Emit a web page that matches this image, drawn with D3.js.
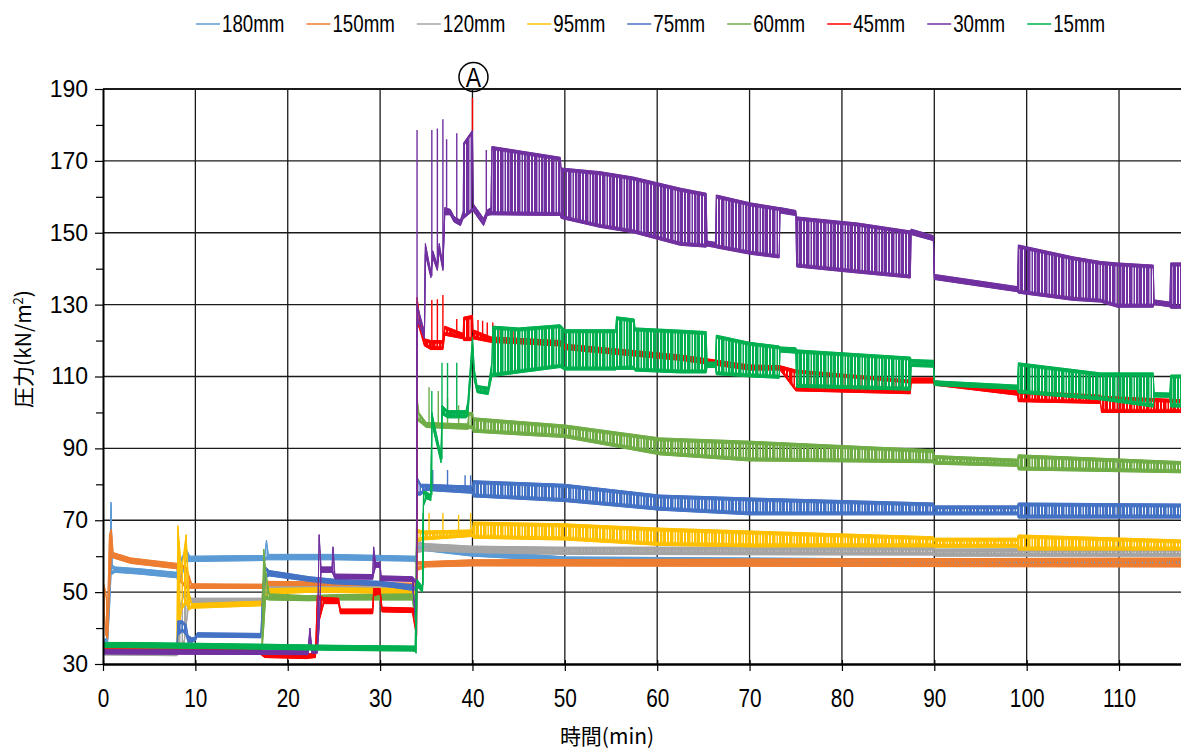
<!DOCTYPE html>
<html>
<head>
<meta charset="utf-8">
<script src="https://cdnjs.cloudflare.com/ajax/libs/d3/7.8.5/d3.min.js"></script>
<style>
  body { margin: 0; background: #fff; }
</style>
</head>
<body>
<script>
'use strict';

// series names and colours (legend order = drawing order)
const seriesNames = ['180mm', '150mm', '120mm', '95mm', '75mm', '60mm', '45mm', '30mm', '15mm'];
const seriesColors = ['#5B9BD5', '#ED7D31', '#A5A5A5', '#FFC000', '#4472C4', '#70AD47', '#FF0000', '#7030A0', '#00B050'];

const xTickValues = [0, 10, 20, 30, 40, 50, 60, 70, 80, 90, 100, 110];
const yTickValues = [30, 50, 70, 90, 110, 130, 150, 170, 190];
const yMinorTicks = [40, 60, 80, 100, 120, 140, 160, 180];

// envelopes: [time(min), low, high] in kN/m2
const env180mm = [[0, 35, 36.5], [0.5, 36, 37.5], [0.7, 45, 55], [0.87, 55, 75], [1.0, 55, 57.5], [1.3, 55.5, 57],
  [4, 55, 56.5], [8, 54, 55.5], [8.2, 52, 58], [8.6, 55, 60], [9.0, 58.5, 62], [9.4, 58.5, 60], [17.5, 58.8, 60.2],
  [17.7, 59, 64.5], [17.9, 59, 60.5], [25, 59, 60.5], [33.7, 58.6, 60], [33.9, 58, 60], [34.0, 62, 64.5],
  [35, 61.5, 63], [40, 60, 62], [45, 59.3, 60.8], [50, 58.3, 59.8], [117, 57.3, 58.8]];

const env150mm = [[0, 50, 53], [0.3, 38, 50], [0.5, 37, 45], [0.7, 50, 66], [0.9, 60, 67.5], [1.1, 59.5, 61],
  [3, 58, 59.5], [8, 56.5, 58], [8.3, 53, 58], [9, 51, 57], [9.6, 51, 52.3], [17.3, 51, 52.2], [17.6, 51.5, 53],
  [25, 51.5, 52.8], [33.7, 51.2, 52.5], [33.9, 40, 52], [34.0, 56, 58.5], [35, 57, 58.5], [40, 57.3, 59],
  [117, 57, 59.5]];

const env120mm = [[0, 32.5, 33.8], [8, 32.3, 33.6], [8.2, 33, 45], [8.8, 36, 50], [9.3, 47, 49], [9.6, 47, 48.3],
  [17.3, 47.2, 48.3], [17.5, 48, 52], [18, 50, 51.5], [33.7, 50, 51.5], [33.9, 45, 51], [34.0, 61, 64],
  [35, 61.5, 63.5], [40, 61, 62.8], [50, 60.5, 62.5], [90, 60.3, 62.5], [90.1, 60, 62], [117, 60, 62.2]];

const env95mm = [[0, 33, 34.2], [8, 33, 34.2], [8.1, 38, 68.5], [8.5, 45, 56], [9.0, 47, 66], [9.3, 45, 50],
  [9.6, 45.5, 46.8], [17.2, 46.2, 47.5], [17.4, 48, 55], [18, 49.5, 51], [23, 50, 51.2], [33.7, 49.5, 51],
  [33.9, 45, 50.5], [34.0, 64, 67.5], [34.6, 64.5, 67], [40, 65.5, 67.3], [40.1, 65, 69.5], [50, 64.5, 69],
  [60.3, 63, 67.8], [70, 62.6, 67], [89.9, 62.6, 65.4], [90, 62.5, 65], [99, 62.5, 65], [99.1, 61.7, 65.9],
  [117, 61.7, 64.5]];

const env75mm = [[0, 33, 34.2], [8, 33, 34.2], [8.1, 38, 42], [8.6, 39, 42], [9.0, 38, 41], [9.2, 36, 38],
  [9.6, 36, 37.3], [10.0, 36.5, 37.5], [10.2, 37.5, 38.7], [17.1, 37.3, 38.5], [17.3, 45, 52], [17.6, 54, 57],
  [18, 54.5, 56], [22.3, 53, 54.3], [25, 52.3, 53.6], [30, 51.8, 53], [33.5, 50.5, 52], [33.9, 44, 51],
  [34.0, 77, 82], [34.4, 77, 80], [35, 78.3, 80], [40, 77.5, 79.5], [40.1, 76.5, 81], [50, 75.2, 80],
  [60.3, 72.8, 77], [70, 71.5, 76.2], [89.9, 71.5, 74.8], [90, 71.5, 74], [99, 71.5, 74], [99.1, 70.6, 74.8],
  [117, 70.6, 74.5]];

const env60mm = [[0, 33, 34.2], [17.2, 33, 34.2], [17.4, 40, 62], [17.6, 48, 56], [18, 47.8, 49.5],
  [22.3, 47.6, 49], [25, 47.8, 49.3], [33.5, 47.8, 49.5], [33.9, 40, 49], [34.0, 98, 104], [34.2, 97.5, 100],
  [35, 95.8, 97.2], [39.5, 95.3, 96.8], [39.6, 95.5, 100], [40, 95.5, 100], [40.1, 94.5, 98.5], [50, 93, 96.5],
  [60.3, 88.2, 92.9], [70, 86.5, 92], [89.9, 86, 89.6], [90, 85.6, 88], [99, 85, 87], [99.1, 84, 88.2],
  [117, 83.2, 86.3]];

const env45mm = [[0, 33, 34.2], [17, 32.8, 34], [17.5, 31.8, 33], [22, 31.5, 32.8], [23.0, 31.8, 33],
  [23.2, 40, 49], [23.9, 46.8, 48.5], [25.5, 46.8, 48.3], [25.7, 44, 45.3], [29.2, 44, 45.3], [29.3, 49, 51],
  [30.0, 49.5, 51], [30.2, 44.5, 45.8], [33.5, 44.3, 45.6], [33.95, 37.5, 45], [34.0, 125, 132],
  [34.3, 123, 126], [34.8, 118.5, 120.5], [35.5, 117.5, 120], [36.8, 117.5, 120], [37.0, 121.5, 124],
  [39, 120.5, 122], [39.05, 120, 126.5], [40, 120, 127], [40.05, 120.5, 123], [42, 119.5, 121],
  [49.5, 118.5, 120], [50, 117.5, 119], [62.5, 114.5, 116], [70, 111.8, 113.2], [73.3, 111.8, 113],
  [75, 106, 111.8], [87.4, 105.2, 109], [87.5, 108.2, 109.6], [89.9, 108.2, 109.6], [90, 107.6, 108.8],
  [99, 104.8, 106], [99.1, 103, 106], [108, 102.5, 104.8], [108.1, 100, 104.5], [117, 100, 103.5]];

const env30mm = [[0, 32.8, 34], [22.2, 32.6, 33.8], [22.4, 38, 40], [22.6, 33, 34.5], [23.2, 33, 35],
  [23.4, 40, 66], [23.6, 55.5, 57], [24.8, 55.5, 57], [24.9, 55, 62.6], [25.1, 53.7, 55], [29.2, 53.6, 54.9],
  [29.3, 55, 62.6], [29.5, 56.9, 58.3], [30.0, 56.9, 58.3], [30.1, 53.2, 54.5], [33.5, 53, 54.3],
  [33.95, 38, 53], [34.0, 126, 130], [34.8, 120.5, 122.5], [34.9, 144, 147], [35.5, 137.5, 139],
  [35.7, 143, 145], [36.2, 139.5, 141], [36.4, 145, 147], [36.8, 139.5, 141], [37.0, 155, 157],
  [37.6, 155, 156.5], [38.0, 153, 154.5], [38.7, 152, 153.5], [39.0, 154, 156], [39.05, 154, 175],
  [40.0, 156, 178.5], [40.1, 156, 158], [41.2, 152, 154], [41.6, 154.8, 156.3], [42.0, 155, 157],
  [42.1, 155, 174], [49.5, 154.8, 171], [49.6, 154, 168], [53.8, 151.5, 167], [57.4, 150, 165.5],
  [62.5, 146.5, 162.4], [65.3, 146, 161], [65.4, 146.3, 147.7], [66.3, 145.9, 147.3], [66.4, 145.8, 160.5],
  [70.1, 144, 158.3], [73.2, 143, 157], [73.3, 155.5, 157], [75.0, 154.8, 156.2], [75.1, 140.5, 154.4],
  [81.7, 138.8, 152.7], [87.4, 137.4, 150.5], [87.5, 149.5, 151], [89.9, 147.8, 149.2], [90.0, 137, 138.4],
  [99.0, 133.6, 135], [99.1, 133.2, 146.6], [105, 131.2, 143.3], [108, 130.7, 142], [109.8, 129.3, 141.6],
  [113.7, 129.3, 141], [113.8, 130, 131.3], [115.5, 129.4, 130.7], [115.6, 129, 141.6], [117, 129, 141.6]];

const env15mm = [[0, 34.6, 36], [3, 34.6, 36], [15, 34.2, 35.6], [25, 33.8, 35.2], [33.5, 33.6, 35],
  [33.8, 33.5, 35], [33.9, 33, 52], [34.0, 51.5, 53.5], [34.6, 50, 51.5], [34.7, 74, 78], [35.0, 76, 78],
  [35.5, 75.5, 77], [35.6, 97, 100], [36.6, 86, 88], [36.7, 99.5, 102], [37.3, 98.5, 100.5],
  [39.3, 98.5, 100.5], [39.5, 99, 103], [40.0, 117, 121], [40.2, 109, 112], [40.5, 105.5, 107.5],
  [41.7, 105, 107], [42.1, 110, 114], [42.2, 110, 124], [45, 111, 123.5], [49.5, 112.5, 124.4],
  [50, 111.8, 123], [55.5, 111.8, 123], [55.6, 112, 126.6], [57.5, 112, 126], [57.6, 111.5, 123.5],
  [62.5, 111, 122.9], [65.3, 111, 122.5], [65.4, 112.5, 114], [66.3, 112.5, 114], [66.4, 110.5, 121.5],
  [70, 109.9, 119.5], [73.2, 109.5, 118.5], [73.3, 116.8, 118.2], [75, 116.5, 118], [75.1, 107, 117.4],
  [87.4, 106.2, 115.4], [87.5, 112.8, 114.7], [89.9, 112.6, 114.5], [90.0, 107.5, 108.8],
  [99.0, 106.4, 107.6], [99.1, 105.4, 113.8], [108, 103.5, 111], [113.7, 101.5, 111], [113.8, 104.3, 105.5],
  [115.5, 104.2, 105.4], [115.6, 101.5, 110.4], [117, 101.5, 110.4]];

// isolated spikes: [time, from, to]
const spk95mm = [[35.3, 66, 72], [36.8, 66, 72], [38.5, 66.5, 71.5], [39.8, 66.5, 72]];
const spk75mm = [[35.7, 79, 84], [37.3, 78, 84], [39.2, 78, 82.5], [39.8, 78, 82.5]];
const spk60mm = [[35.3, 96, 107], [36.3, 96, 106], [37.3, 96, 104], [38.5, 96, 102]];
const spk45mm = [[35.6, 118, 131.3], [36.2, 118, 131.5], [36.8, 118, 132.7], [38.3, 121, 126],
  [40.0, 178, 187.5], [40.6, 121, 125.7], [41.1, 121, 125.5], [41.6, 120.5, 125], [42.2, 120, 125],
  [43, 120, 124], [44.5, 119.5, 123.5], [46, 119.5, 123], [48, 119, 122.5]];
const spk30mm = [[34.0, 128, 178.6], [35.6, 138, 178.6], [36.2, 140, 179], [36.8, 140, 181.6],
  [37.2, 155, 176], [38.3, 152.7, 177.7], [41.5, 154, 173]];
const spk15mm = [[34.65, 52, 72], [35.6, 77, 106], [36.7, 87, 113.8], [37.3, 99, 113.8], [38.3, 99, 113.8]];

const envs = [env180mm, env150mm, env120mm, env95mm, env75mm, env60mm, env45mm, env30mm, env15mm];
const spikes = [[], [], [], spk95mm, spk75mm, spk60mm, spk45mm, spk30mm, spk15mm];

const W = 1181, H = 751;
const sansFont = '"Liberation Sans", Arial, sans-serif';
const cjkFont = '"Noto Sans CJK JP", sans-serif';
const edge = 0.9; // solid thickness kept along both edges of a band, kN/m2

const x = d3.scaleLinear().domain([0, 120]).range([103, 1211.4]);
const y = d3.scaleLinear().domain([30, 190]).range([664, 89]);

const svg = d3.select('body').append('svg')
  .attr('width', W)
  .attr('height', H)
  .style('display', 'block');

const defs = svg.append('defs');
defs.append('clipPath').attr('id', 'plotClip')
  .append('rect')
  .attr('x', x(0)).attr('y', y(190))
  .attr('width', x(120) - x(0)).attr('height', y(30) - y(190));

// comb texture for the noisy bands (uneven stripes)
const stripes = [[0, 3], [4, 2], [7, 3.5], [11.5, 1.5], [14, 2.5]];
seriesColors.forEach((col, i) => {
  const p = defs.append('pattern')
    .attr('id', 'comb' + i)
    .attr('patternUnits', 'userSpaceOnUse')
    .attr('width', 17).attr('height', 10);
  p.selectAll('rect').data(stripes).enter().append('rect')
    .attr('x', d => d[0]).attr('y', 0)
    .attr('width', d => d[1]).attr('height', 10)
    .attr('fill', col);
});

// grid lines
const grid = svg.append('g');
grid.selectAll('.vg')
  .data(xTickValues.slice(1))
  .enter().append('line')
  .attr('x1', d => x(d)).attr('x2', d => x(d))
  .attr('y1', y(190)).attr('y2', y(30))
  .attr('stroke', '#1a1a1a').attr('stroke-width', 1.3);
grid.selectAll('.hg')
  .data(yTickValues.slice(1))
  .enter().append('line')
  .attr('x1', x(0)).attr('x2', x(120))
  .attr('y1', d => y(d)).attr('y2', d => y(d))
  .attr('stroke', '#1a1a1a').attr('stroke-width', d => d === 190 ? 2 : 1.3);

// data: combed band, plus solid strips along the low and high edges
const area = d3.area()
  .x(d => x(d[0]))
  .y0(d => y(d[1]))
  .y1(d => y(d[2]));
const lowEdge = d3.area()
  .x(d => x(d[0]))
  .y0(d => y(d[1]))
  .y1(d => y(Math.min(d[2], d[1] + edge)));
const highEdge = d3.area()
  .x(d => x(d[0]))
  .y0(d => y(Math.max(d[1], d[2] - edge)))
  .y1(d => y(d[2]));

const plot = svg.append('g').attr('clip-path', 'url(#plotClip)');
envs.forEach((env, i) => {
  const col = seriesColors[i];
  const g = plot.append('g');
  g.append('path')
    .datum(env)
    .attr('d', area)
    .attr('fill', `url(#comb${i})`)
    .attr('stroke', col)
    .attr('stroke-width', 1)
    .attr('stroke-linejoin', 'round');
  [lowEdge, highEdge].forEach(gen => {
    g.append('path')
      .datum(env)
      .attr('d', gen)
      .attr('fill', col)
      .attr('stroke', col)
      .attr('stroke-width', 0.6);
  });
  g.selectAll('.spike')
    .data(spikes[i])
    .enter().append('line')
    .attr('x1', d => x(d[0])).attr('x2', d => x(d[0]))
    .attr('y1', d => y(d[1])).attr('y2', d => y(d[2]))
    .attr('stroke', col)
    .attr('stroke-width', 1.4);
});

// axes
const yAxis = d3.axisLeft(y).tickValues(yTickValues).tickSize(8).tickSizeOuter(0).tickPadding(7)
  .tickFormat(d3.format('d'));
const gy = svg.append('g').attr('transform', `translate(${x(0)},0)`).call(yAxis);
gy.select('.domain').attr('stroke', '#000').attr('stroke-width', 2);
gy.selectAll('.tick line').attr('stroke', '#000').attr('stroke-width', 1.2);
gy.selectAll('.tick text')
  .style('font-family', sansFont)
  .style('font-size', '23px')
  .attr('fill', '#000');

const yMinor = d3.axisLeft(y).tickValues(yMinorTicks).tickSize(7).tickFormat('');
const gym = svg.append('g').attr('transform', `translate(${x(0)},0)`).call(yMinor);
gym.select('.domain').remove();
gym.selectAll('.tick line').attr('stroke', '#000').attr('stroke-width', 1.2);

const xAxis = d3.axisBottom(x).tickValues(xTickValues).tickSize(7).tickSizeOuter(0).tickPadding(18);
const gx = svg.append('g').attr('transform', `translate(0,${y(30)})`).call(xAxis);
gx.select('.domain').attr('stroke', '#000').attr('stroke-width', 2.5);
gx.selectAll('.tick line').attr('stroke', '#000').attr('stroke-width', 1.2).attr('y1', -4);
gx.selectAll('.tick text')
  .attr('transform', 'scale(0.8,1)')
  .style('font-family', sansFont)
  .style('font-size', '26px')
  .attr('fill', '#000');

// axis titles
const yTitle = svg.append('text')
  .attr('transform', 'translate(31, 349) rotate(-90)')
  .attr('text-anchor', 'middle')
  .style('font-family', cjkFont)
  .style('font-size', '21px')
  .attr('fill', '#000');
yTitle.append('tspan').text('圧力(kN/m');
yTitle.append('tspan').attr('dy', -8).style('font-size', '13px').text('2');
yTitle.append('tspan').attr('dy', 8).text(')');

svg.append('text')
  .attr('x', 607)
  .attr('y', 744)
  .attr('text-anchor', 'middle')
  .style('font-family', cjkFont)
  .style('font-size', '21px')
  .attr('fill', '#000')
  .text('時間(min)');

// annotation A at the peak
const ann = svg.append('g').attr('transform', `translate(${x(40) + 1},${y(190) - 12})`);
ann.append('circle').attr('r', 14.5).attr('fill', 'none').attr('stroke', '#000').attr('stroke-width', 1.5);
ann.append('text')
  .attr('text-anchor', 'middle')
  .attr('y', 10)
  .attr('transform', 'scale(0.85,1)')
  .style('font-family', sansFont)
  .style('font-size', '27px')
  .attr('fill', '#000')
  .text('A');

// legend
const legend = svg.append('g');
let lx = 196;
seriesNames.forEach((name, i) => {
  const item = legend.append('g').attr('transform', `translate(${lx},0)`);
  item.append('line')
    .attr('x1', 0).attr('x2', 24)
    .attr('y1', 24).attr('y2', 24)
    .attr('stroke', seriesColors[i]).attr('stroke-width', 1.5);
  const t = item.append('text')
    .attr('transform', 'translate(26,32) scale(0.78,1)')
    .style('font-family', sansFont)
    .style('font-size', '24px')
    .attr('fill', '#000')
    .text(name);
  lx += 26 + t.node().getComputedTextLength() * 0.78 + 22;
});
</script>
</body>
</html>
